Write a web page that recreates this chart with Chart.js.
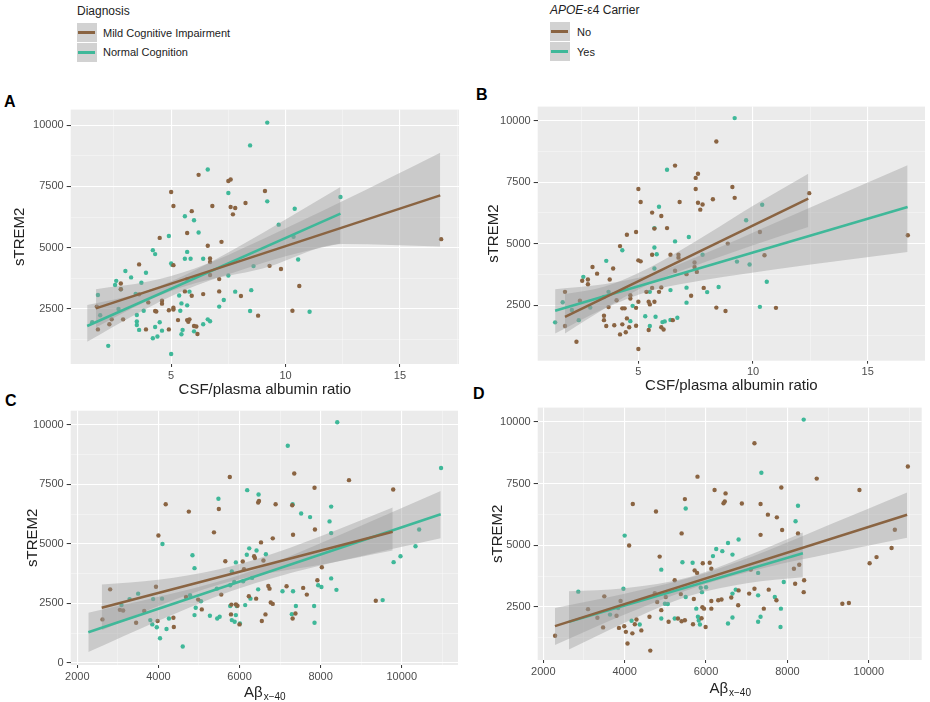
<!DOCTYPE html>
<html>
<head>
<meta charset="utf-8">
<script src="https://cdn.jsdelivr.net/npm/chart.js@4"></script>
<style>
  body { margin: 0; width: 930px; height: 702px; position: relative; overflow: hidden; background: #fff;
         font-family: "Liberation Sans", Arial, sans-serif; color: #222; }
  canvas { position: absolute; }
  .letter { position: absolute; font-weight: bold; font-size: 16px; line-height: 1; color: #000; }
  .lg-title { position: absolute; font-size: 12px; line-height: 1; }
  .key { position: absolute; width: 20px; height: 19px; background: #d2d2d2; }
  .key span { position: absolute; left: 1px; right: 2px; top: 8px; height: 2.5px; }
  .lg-text { position: absolute; font-size: 11px; line-height: 1; }
</style>
</head>
<body>
<div class="lg-title" style="left:77px;top:5px">Diagnosis</div>
<div class="key" style="left:77px;top:23px"><span style="background:#8a6442"></span></div>
<div class="key" style="left:77px;top:43px"><span style="background:#3fb899"></span></div>
<div class="lg-text" style="left:103px;top:28px">Mild Cognitive Impairment</div>
<div class="lg-text" style="left:103px;top:47px">Normal Cognition</div>

<div class="lg-title" style="left:550px;top:4px"><i>APOE</i>-ε4 Carrier</div>
<div class="key" style="left:550px;top:22px"><span style="background:#8a6442"></span></div>
<div class="key" style="left:550px;top:42px"><span style="background:#3fb899"></span></div>
<div class="lg-text" style="left:577px;top:27px">No</div>
<div class="lg-text" style="left:577px;top:47px">Yes</div>

<div class="letter" style="left:4px;top:94px">A</div>
<div class="letter" style="left:476px;top:87px">B</div>
<div class="letter" style="left:5px;top:393px">C</div>
<div class="letter" style="left:473px;top:386px">D</div>

<canvas id="cA" width="465" height="300" style="left:0;top:100px"></canvas>
<canvas id="cB" width="465" height="300" style="left:465px;top:97px"></canvas>
<canvas id="cC" width="465" height="302" style="left:0;top:400px"></canvas>
<canvas id="cD" width="465" height="304" style="left:465px;top:398px"></canvas>

<script>
// ---- ticks ----
const ratioMajor = [5, 10, 15];
const ratioMinor = [2.5, 7.5, 12.5, 17.5];
const abetaMajor = [2000, 4000, 6000, 8000, 10000];
const abetaMinor = [3000, 5000, 7000, 9000, 11000];
const tremMajor = [0, 2500, 5000, 7500, 10000];
const tremMinor = [1250, 3750, 6250, 8750];

// ---- A: albumin ratio by diagnosis ----
const ratioMciPts = [[6.2,7970],[7.6,7780],[7.5,7720],[9.1,7310],[5.0,7270],[5.9,6490],[5.1,6700],[6.8,6700],[7.6,6660],[7.8,6620],[8.25,6820],[7.7,6360],[5.7,5600],[4.5,5400],[7.2,5240],[6.6,5080],[6.7,4560],[6.7,4420],[3.6,4320],[5.1,4290],[9.8,4130],[9.3,4260],[6.7,3890],[5.7,3720],[7.1,3720],[10.6,3440],[2.8,3540],[2.8,3310],[5.6,3220],[6.4,3110],[7.1,3220],[8.05,3030],[5.9,3040],[3.6,3100],[4.0,2770],[4.6,2840],[4.6,2720],[5.1,2550],[5.1,2480],[4.3,2420],[4.9,2450],[4.35,2400],[2.9,2080],[2.4,2080],[2.3,1880],[1.8,1670],[1.75,2600],[5.3,2050],[5.7,2050],[5.8,2080],[5.75,1980],[6.0,1810],[6.1,1790],[6.15,1480],[4.9,1670],[3.9,1670],[8.8,2230],[10.3,2430],[16.8,5350]];
const ratioNcPts = [[9.2,10100],[8.45,9170],[6.6,8190],[7.5,7230],[9.2,6890],[12.4,7070],[10.4,6590],[5.6,6280],[6.0,6120],[9.7,5940],[6.2,5620],[4.9,5480],[10.35,5450],[4.2,4900],[4.3,4740],[5.7,4830],[5.6,4550],[5.85,4550],[6.4,4550],[10.55,4520],[5.0,4360],[5.05,4300],[3.0,4050],[3.9,3980],[3.25,3790],[2.6,3650],[2.55,3480],[2.8,3310],[3.7,3570],[1.8,3070],[3.45,3120],[8.6,4250],[7.5,3870],[7.3,2870],[7.8,3210],[8.5,3270],[5.8,3210],[5.35,3050],[5.45,2730],[5.4,2430],[5.7,2650],[7.1,2600],[8.45,2420],[11.05,2390],[3.8,2430],[3.5,2260],[3.5,1990],[3.5,1850],[3.6,1650],[4.3,1770],[4.5,1960],[4.6,1620],[4.4,1380],[4.2,1310],[5.45,1470],[5.5,1650],[6.0,1590],[6.4,1880],[6.6,2080],[6.7,2000],[2.25,1000],[5.0,670],[1.55,1960],[1.9,2250],[2.7,2500]];
const ratioMciLineX = [1.71, 16.76];
const ratioMciLineY = [2528, 7134];
const ratioNcLineX = [1.33, 12.4];
const ratioNcLineY = [1809, 6390];
const ratioMciBandX = [1.71, 4, 6, 9, 12.5, 16.76];
const ratioMciBandLo = [1750, 2850, 3540, 4150, 5150, 5050];
const ratioMciBandHi = [3310, 3620, 4140, 5350, 6900, 8870];
const ratioNcBandX = [1.33, 3.5, 5.5, 8, 10, 12.4];
const ratioNcBandLo = [1170, 2310, 3240, 4070, 4650, 5170];
const ratioNcBandHi = [2660, 3110, 3840, 5070, 6150, 7470];

// ---- B: albumin ratio by APOE-e4 ----
const ratioNoPts = [[8.4,9150],[6.6,8170],[7.6,7840],[7.5,7670],[9.1,7300],[5.0,7220],[7.5,7220],[9.2,6860],[8.25,6800],[5.1,6690],[6.8,6690],[7.6,6660],[7.8,6590],[7.7,6380],[5.6,6260],[6.0,6120],[4.9,5470],[4.5,5360],[5.7,5610],[6.25,5630],[8.9,5000],[4.2,4900],[5.6,4550],[6.4,4550],[6.75,4550],[6.75,4430],[5.0,4320],[5.1,4280],[10.5,4530],[7.45,4230],[7.45,4050],[7.55,3850],[3.0,4050],[3.9,3990],[3.2,3780],[2.55,3490],[2.8,3540],[2.8,3350],[3.75,3540],[7.1,3760],[6.6,3900],[7.3,2880],[7.85,3200],[5.6,3200],[5.35,3040],[6.0,3220],[5.9,3040],[4.65,2900],[4.65,2770],[4.05,2700],[5.0,2640],[5.45,2640],[5.5,2530],[5.7,2640],[1.8,3040],[2.45,2680],[4.3,2370],[4.4,2370],[4.9,2390],[3.7,2420],[8.4,2400],[8.8,2260],[11.0,2390],[3.5,2070],[3.5,1890],[4.5,1960],[3.6,1650],[3.95,1680],[4.3,1720],[4.6,1600],[4.2,1310],[4.45,1400],[4.9,1660],[5.45,1490],[6.0,1600],[6.1,1510],[6.5,1890],[1.8,1650],[2.3,1010],[5.0,720],[16.75,5340],[12.45,7050],[10.3,5470]];
const ratioYesPts = [[9.2,10100],[6.25,8000],[5.9,6500],[10.4,6580],[9.7,5950],[5.7,5630],[7.2,5270],[6.6,5090],[4.3,4730],[5.7,4840],[5.8,4570],[7.8,4550],[9.3,4270],[9.85,4150],[3.6,4300],[5.7,3990],[10.6,3450],[8.5,3240],[8.0,3030],[6.4,3110],[7.1,3210],[5.5,3040],[2.6,3650],[3.7,3040],[3.5,2830],[7.1,2600],[10.3,2430],[1.7,2620],[1.37,1800],[2.4,1890],[4.65,1850],[4.75,2470],[5.3,2050],[5.75,2030],[5.5,1650],[6.05,1810],[6.15,1840],[6.7,1990],[6.4,1900],[2.1,2300],[2.9,2400]];
const ratioNoLineX = [1.8, 12.41];
const ratioNoLineY = [2026, 6825];
const ratioYesLineX = [1.37, 16.74];
const ratioYesLineY = [2269, 6485];
const ratioNoBandX = [1.8, 3.5, 5.5, 8, 10, 12.41];
const ratioNoBandLo = [1350, 2345, 3370, 4280, 4935, 5680];
const ratioNoBandHi = [2950, 3245, 4030, 5380, 6535, 7840];
const ratioYesBandX = [1.37, 3.5, 5.5, 8, 11, 16.74];
const ratioYesBandLo = [1350, 2353, 3072, 3538, 3960, 4660];
const ratioYesBandHi = [3150, 3353, 3732, 4638, 5860, 8180];

// ---- C: Abeta x-40 by diagnosis ----
const abetaMciPts = [[5760,7800],[7350,7950],[8700,7670],[7850,7350],[9790,7280],[4180,6660],[4750,6350],[5490,6460],[6460,6730],[6480,6800],[6890,6660],[7300,6620],[4000,5350],[5370,5480],[7320,5380],[7860,5600],[6530,5060],[6820,5230],[5650,4270],[6080,4260],[6360,4480],[6380,4400],[6590,4300],[8030,4020],[3940,3200],[2810,3090],[2620,1830],[5550,2870],[6230,2800],[6410,2700],[6710,3230],[6740,3120],[7160,3220],[7570,3150],[7660,2870],[7920,3470],[5910,2460],[5950,2400],[6770,2540],[6820,2480],[7310,1870],[7380,2080],[6640,2040],[6550,1760],[5790,2040],[6000,1620],[3450,1690],[3650,2180],[4370,1900],[4380,1510],[3980,1760],[4980,2660],[5070,2250],[4680,2770],[9360,2610],[3050,2230],[3130,2200],[6110,3930],[5800,2450]];
const abetaNcPts = [[8410,10100],[7190,9110],[10970,8180],[6190,7250],[6470,7070],[5480,6890],[7310,6660],[8260,6560],[7520,6270],[7740,6120],[8220,5940],[10430,5600],[8260,5450],[4100,4990],[4840,4520],[6240,4810],[6420,4720],[6180,4540],[6650,4560],[10340,4900],[9970,4480],[9800,4230],[4890,3980],[5810,3840],[5910,4220],[5440,3120],[5770,3260],[5870,3400],[6090,3430],[6310,3570],[3500,2910],[3290,2680],[3870,2680],[4090,2700],[4780,2840],[4920,2320],[5050,2590],[5930,2390],[5770,2390],[6140,2430],[6270,2700],[6460,3090],[7060,3010],[7320,3010],[7940,3260],[8020,3190],[8260,3550],[8390,3070],[7390,2390],[7840,2390],[7850,1690],[7290,2050],[9530,2640],[4890,2010],[5270,1980],[5450,1870],[5510,1940],[5810,1800],[5880,1730],[6010,1660],[5910,2010],[3800,1800],[3850,1620],[4200,1430],[4040,1040],[4600,690],[3960,1500],[3090,2430],[4260,1870]];
const abetaMciLineX = [2602, 9778];
const abetaMciLineY = [2318, 5506];
const abetaNcLineX = [2271, 10962];
const abetaNcLineY = [1290, 6242];
const abetaMciBandX = [2602, 4000, 5500, 6500, 8000, 9778];
const abetaMciBandLo = [1370, 2390, 3290, 3700, 4120, 4715];
const abetaMciBandHi = [3290, 3490, 3930, 4400, 5320, 6520];
const abetaNcBandX = [2271, 4000, 5800, 7000, 8500, 10962];
const abetaNcBandLo = [460, 1775, 3020, 3655, 4290, 5230];
const abetaNcBandHi = [2110, 2775, 3580, 4315, 5390, 7210];

// ---- D: Abeta x-40 by APOE-e4 ----
const abetaNoPts = [[7190,9130],[10960,8190],[5790,7780],[8720,7700],[7850,7340],[9770,7240],[6210,7240],[6480,7100],[5480,6870],[6460,6770],[6430,6700],[6880,6690],[7340,6670],[4200,6670],[4770,6370],[7520,6240],[7740,6130],[5400,5480],[7340,5420],[7870,5620],[8260,5480],[4110,4990],[10640,5630],[10560,4890],[10190,4520],[10020,4270],[4860,4540],[5720,3980],[5920,4270],[6090,4290],[6130,4050],[5780,3880],[8160,4050],[8290,4210],[8410,3580],[7100,4020],[7060,3040],[7190,3240],[7540,3200],[7730,2770],[7420,2430],[8190,3440],[8400,3100],[6800,3170],[6620,2880],[6380,2800],[6300,2770],[6130,2740],[6130,2430],[5950,2430],[5910,2490],[6790,2570],[5700,2820],[5380,3020],[5230,3580],[5890,2040],[5990,1690],[5680,1800],[5480,1960],[5400,1920],[5310,2030],[5080,1900],[4900,2370],[4610,2100],[4740,3060],[4800,2700],[9350,2630],[9510,2660],[2290,1330],[3100,2410],[3330,2060],[3470,1670],[3500,2930],[3800,2140],[3860,1650],[3990,1720],[4030,1490],[4070,1020],[4190,1430],[4250,1800],[4290,1990],[4410,1550],[4630,730],[3900,2740],[5010,2900]];
const abetaYesPts = [[8400,10090],[7360,7940],[5500,6490],[8260,6600],[8200,5970],[4000,5390],[4900,4010],[5420,4310],[5670,4290],[6540,5090],[6800,5230],[6250,4850],[6170,4560],[6400,4760],[6650,4620],[7280,3880],[3970,3240],[2860,3120],[5500,2900],[5870,3280],[5900,3100],[6650,3040],[6730,3200],[7280,2970],[7690,2900],[7910,3510],[3840,2460],[3640,2190],[4990,2630],[4900,2030],[5230,2030],[5760,2430],[5800,2100],[5850,1790],[5820,1950],[4170,1940],[4370,1790],[6650,2070],[6540,1830],[7340,2100],[7280,1900],[7840,2430],[7830,1690],[5060,2620],[6000,3300]];
const abetaNoLineX = [2287, 10942];
const abetaNoLineY = [1722, 6238];
const abetaYesLineX = [2631, 8380];
const abetaYesLineY = [1895, 4677];
const abetaNoBandX = [2287, 4000, 6000, 7500, 9000, 10942];
const abetaNoBandLo = [960, 2196, 3440, 4112, 4645, 5300];
const abetaNoBandHi = [2462, 3036, 3880, 4772, 5805, 7140];
const abetaYesBandX = [2631, 4000, 5600, 7000, 8380];
const abetaYesBandLo = [774, 1857, 2952, 3459, 3700];
const abetaYesBandHi = [3137, 3257, 3712, 4559, 5516];

// ---- drawing ----
const brown = "#8a6442";
const teal = "#3fb899";
const bandFill = "rgba(153,153,153,0.4)";
const fontFam = '"Liberation Sans", Arial, sans-serif';
Chart.defaults.font.family = fontFam;

function pts(list) {
  return list.map((p) => ({ x: p[0], y: p[1] }));
}
function xy(xs, ys) {
  return xs.map((x, i) => ({ x: x, y: ys[i] }));
}

const plotBg = {
  id: "plotBg",
  beforeDraw(chart) {
    const a = chart.chartArea;
    const c = chart.ctx;
    c.save();
    c.fillStyle = "#ebebeb";
    c.fillRect(a.left, a.top, a.right - a.left, a.bottom - a.top);
    c.restore();
  },
};

// x title with a subscript (A beta x-40)
const subTitle = {
  id: "subTitle",
  afterDraw(chart, args, opts) {
    if (!opts.text) return;
    const c = chart.ctx;
    const a = chart.chartArea;
    c.save();
    c.fillStyle = "#222";
    c.textBaseline = "alphabetic";
    c.font = "15px " + fontFam;
    const w1 = c.measureText(opts.text).width;
    c.font = "10px " + fontFam;
    const w2 = c.measureText(opts.sub).width;
    const x0 = (a.left + a.right) / 2 - (w1 + w2) / 2;
    c.font = "15px " + fontFam;
    c.fillText(opts.text, x0, opts.y);
    c.font = "10px " + fontFam;
    c.fillText(opts.sub, x0 + w1 + 1, opts.y + 3);
    c.restore();
  },
};

function axis(major, minor, min, max, extra) {
  const isMaj = (v) => major.includes(v);
  const all = major.concat(minor).filter((v) => v >= min && v <= max).sort((a, b) => a - b);
  return Object.assign({
    type: "linear",
    min: min,
    max: max,
    afterBuildTicks: (s) => { s.ticks = all.map((v) => ({ value: v })); },
    border: { display: false },
    grid: {
      color: (c) => (c.tick && isMaj(c.tick.value) ? "#ffffff" : "rgba(255,255,255,0.6)"),
      lineWidth: (c) => (c.tick && isMaj(c.tick.value) ? 1.1 : 0.6),
      tickColor: (c) => (c.tick && isMaj(c.tick.value) ? "#333" : "rgba(0,0,0,0)"),
      tickWidth: 1,
    },
    ticks: {
      autoSkip: false,
      maxRotation: 0,
      color: "#4d4d4d",
      font: { size: 11 },
      callback: (v) => (isMaj(v) ? String(v) : ""),
    },
  }, extra);
}

function makePanel(id, p) {
  const pointStyle = (col) => ({
    showLine: false,
    pointRadius: 2.2,
    pointBackgroundColor: col,
    pointBorderWidth: 0,
    order: 3,
  });
  const bandStyle = (fill) => ({
    fill: fill,
    backgroundColor: bandFill,
    borderColor: "rgba(0,0,0,0)",
    borderWidth: 0,
    pointRadius: 0,
    cubicInterpolationMode: "monotone",
    order: 2,
  });
  const lineStyle = (col) => ({
    borderColor: col,
    borderWidth: 2.5,
    pointRadius: 0,
    fill: false,
    order: 1,
  });

  const xScale = axis(p.xMajor, p.xMinor, p.xMin, p.xMax, {
    afterFit: (s) => { s.height = p.xH; },
    title: p.xTitle
      ? { display: true, text: p.xTitle, color: "#222", font: { size: 15 }, padding: { top: 0, bottom: p.xTitlePad } }
      : { display: false },
  });
  xScale.grid.tickLength = 3;
  xScale.ticks.padding = 2;

  const yScale = axis(tremMajor, tremMinor, p.yMin, p.yMax, {
    afterFit: (s) => { s.width = p.yW; },
    title: { display: true, text: "sTREM2", color: "#222", font: { size: 15 }, padding: { top: p.yTitlePad, bottom: 0 } },
  });
  yScale.grid.tickLength = 4;
  yScale.ticks.padding = 3;

  new Chart(document.getElementById(id), {
    type: "line",
    data: {
      datasets: [
        Object.assign({ data: pts(p.g1) }, pointStyle(brown)),
        Object.assign({ data: pts(p.g2) }, pointStyle(teal)),
        Object.assign({ data: xy(p.b1x, p.b1hi) }, bandStyle("+1")),
        Object.assign({ data: xy(p.b1x, p.b1lo) }, bandStyle(false)),
        Object.assign({ data: xy(p.b2x, p.b2hi) }, bandStyle("+1")),
        Object.assign({ data: xy(p.b2x, p.b2lo) }, bandStyle(false)),
        Object.assign({ data: xy(p.l1x, p.l1y) }, lineStyle(brown)),
        Object.assign({ data: xy(p.l2x, p.l2y) }, lineStyle(teal)),
      ],
    },
    options: {
      responsive: false,
      animation: false,
      events: [],
      layout: { padding: p.pad },
      plugins: {
        legend: { display: false },
        tooltip: { enabled: false },
        subTitle: p.sub || {},
      },
      scales: { x: xScale, y: yScale },
    },
    plugins: [plotBg, subTitle],
  });
}

makePanel("cA", {
  g1: ratioMciPts, g2: ratioNcPts,
  l1x: ratioMciLineX, l1y: ratioMciLineY, l2x: ratioNcLineX, l2y: ratioNcLineY,
  b1x: ratioMciBandX, b1lo: ratioMciBandLo, b1hi: ratioMciBandHi,
  b2x: ratioNcBandX, b2lo: ratioNcBandLo, b2hi: ratioNcBandHi,
  xMajor: ratioMajor, xMinor: ratioMinor, xMin: 0.61, xMax: 17.58,
  yMin: 260, yMax: 10630,
  xTitle: "CSF/plasma albumin ratio", xTitlePad: 1,
  pad: { top: 9, right: 6, left: 0, bottom: 0 }, yW: 70.7, xH: 36, yTitlePad: 11,
});

makePanel("cB", {
  g1: ratioNoPts, g2: ratioYesPts,
  l1x: ratioNoLineX, l1y: ratioNoLineY, l2x: ratioYesLineX, l2y: ratioYesLineY,
  b1x: ratioNoBandX, b1lo: ratioNoBandLo, b1hi: ratioNoBandHi,
  b2x: ratioYesBandX, b2lo: ratioYesBandLo, b2hi: ratioYesBandHi,
  xMajor: ratioMajor, xMinor: ratioMinor, xMin: 0.61, xMax: 17.5,
  yMin: 242, yMax: 10568,
  xTitle: "CSF/plasma albumin ratio", xTitlePad: 2,
  pad: { top: 9, right: 5, left: 0, bottom: 0 }, yW: 72.7, xH: 36.3, yTitlePad: 20,
});

makePanel("cC", {
  g1: abetaMciPts, g2: abetaNcPts,
  l1x: abetaMciLineX, l1y: abetaMciLineY, l2x: abetaNcLineX, l2y: abetaNcLineY,
  b1x: abetaMciBandX, b1lo: abetaMciBandLo, b1hi: abetaMciBandHi,
  b2x: abetaNcBandX, b2lo: abetaNcBandLo, b2hi: abetaNcBandHi,
  xMajor: abetaMajor, xMinor: abetaMinor, xMin: 1837, xMax: 11388,
  yMin: -83, yMax: 10583,
  sub: { text: "Aβ", sub: "x−40", y: 296.5 },
  pad: { top: 10.7, right: 7, left: 0, bottom: 0 }, yW: 70.7, xH: 37, yTitlePad: 24,
});

makePanel("cD", {
  g1: abetaNoPts, g2: abetaYesPts,
  l1x: abetaNoLineX, l1y: abetaNoLineY, l2x: abetaYesLineX, l2y: abetaYesLineY,
  b1x: abetaNoBandX, b1lo: abetaNoBandLo, b1hi: abetaNoBandHi,
  b2x: abetaYesBandX, b2lo: abetaYesBandLo, b2hi: abetaYesBandHi,
  xMajor: abetaMajor, xMinor: abetaMinor, xMin: 1863, xMax: 11300,
  yMin: 350, yMax: 10577,
  sub: { text: "Aβ", sub: "x−40", y: 295 },
  pad: { top: 8.7, right: 8.3, left: 0, bottom: 0 }, yW: 72.7, xH: 42, yTitlePad: 24,
});
</script>
</body>
</html>
